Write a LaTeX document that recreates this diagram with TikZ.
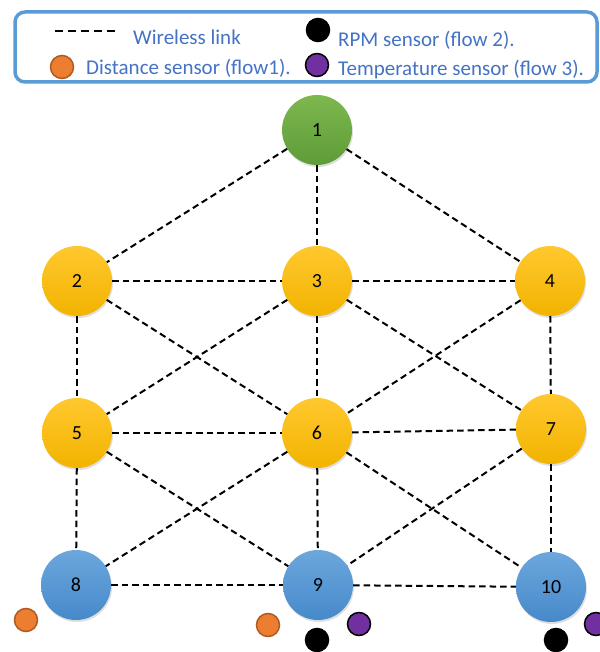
\documentclass[tikz,border=0pt]{standalone}
\usepackage{fontspec}
\setmainfont{Carlito}
\usetikzlibrary{shadows}
\definecolor{legblue}{HTML}{5B9BD5}
\definecolor{txtblue}{HTML}{4472C4}
\definecolor{gtop}{HTML}{7DB84E}
\definecolor{gbot}{HTML}{5E9C38}
\definecolor{ytop}{HTML}{FFC82E}
\definecolor{ybot}{HTML}{F2B300}
\definecolor{btop}{HTML}{6CA7DD}
\definecolor{bbot}{HTML}{4689CA}
\definecolor{orfill}{HTML}{ED7D31}
\definecolor{ordraw}{HTML}{B05A20}
\definecolor{pufill}{HTML}{7030A0}
\tikzset{
  netnode/.style={circle, minimum size=70pt, inner sep=0pt, font=\fontsize{20}{20}\selectfont,
    drop shadow={opacity=0.25, shadow xshift=1pt, shadow yshift=-2pt}},
  greennode/.style={netnode, top color=gtop, bottom color=gbot},
  yellownode/.style={netnode, top color=ytop, bottom color=ybot},
  bluenode/.style={netnode, top color=btop, bottom color=bbot},
  link/.style={draw=black, line width=2pt, dash pattern=on 6.5pt off 4pt},
  sensor/.style={circle, minimum size=23pt, inner sep=0pt, line width=1.5pt},
  distsensor/.style={sensor, fill=orfill, draw=ordraw},
  rpmsensor/.style={sensor, fill=black, draw=black},
  tempsensor/.style={sensor, fill=pufill, draw=black},
  legtext/.style={anchor=west, text=txtblue, font=\fontsize{21}{21}\selectfont, inner sep=0pt}
}
\begin{document}
\begin{tikzpicture}[x=1pt, y=-1pt]
\useasboundingbox (0,0) rectangle (599,652);
% legend
\draw[legblue, line width=3.5pt, rounded corners=10pt] (15,12) rectangle (597,82);
\coordinate (la) at (55,31);
\coordinate (lb) at (118,31);
\draw[black, line width=2pt, dash pattern=on 8pt off 5pt] (la) -- (lb);
\node[legtext] (t1) at (133,37) {Wireless link};
\node[rpmsensor] (lrpm) at (318,30) {};
\node[legtext] (t2) at (338,40) {RPM sensor (flow 2).};
\node[distsensor] (ldist) at (62,67) {};
\node[legtext] (t3) at (86,68) {Distance sensor (flow1).};
\node[tempsensor] (ltemp) at (317,65) {};
\node[legtext] (t4) at (338,70) {Temperature sensor (flow 3).};
% nodes
\node[greennode] (n1) at (317,130) {1};
\node[yellownode] (n2) at (77,281) {2};
\node[yellownode] (n3) at (317,281) {3};
\node[yellownode] (n4) at (550,281) {4};
\node[yellownode] (n5) at (77,433) {5};
\node[yellownode] (n6) at (317,433) {6};
\node[yellownode] (n7) at (551,429) {7};
\node[bluenode] (n8) at (76,585) {8};
\node[bluenode] (n9) at (318,585) {9};
\node[bluenode] (n10) at (551,587) {10};
% links
\foreach \a/\b in {n1/n2,n1/n3,n1/n4,n2/n3,n3/n4,n2/n5,n2/n6,n3/n5,n3/n6,n3/n7,n4/n6,n4/n7,
  n5/n6,n6/n7,n5/n8,n5/n9,n6/n8,n6/n9,n6/n10,n7/n9,n7/n10,n8/n9,n9/n10}
  \draw[link] (\a) -- (\b);
% sensors
\node[distsensor] (s8d) at (26,620) {};
\node[distsensor] (s9d) at (268,625) {};
\node[rpmsensor] (s9r) at (317,640) {};
\node[tempsensor] (s9t) at (359,624) {};
\node[rpmsensor] (s10r) at (556,640) {};
\node[tempsensor] (s10t) at (596,624) {};
\end{tikzpicture}
\end{document}
